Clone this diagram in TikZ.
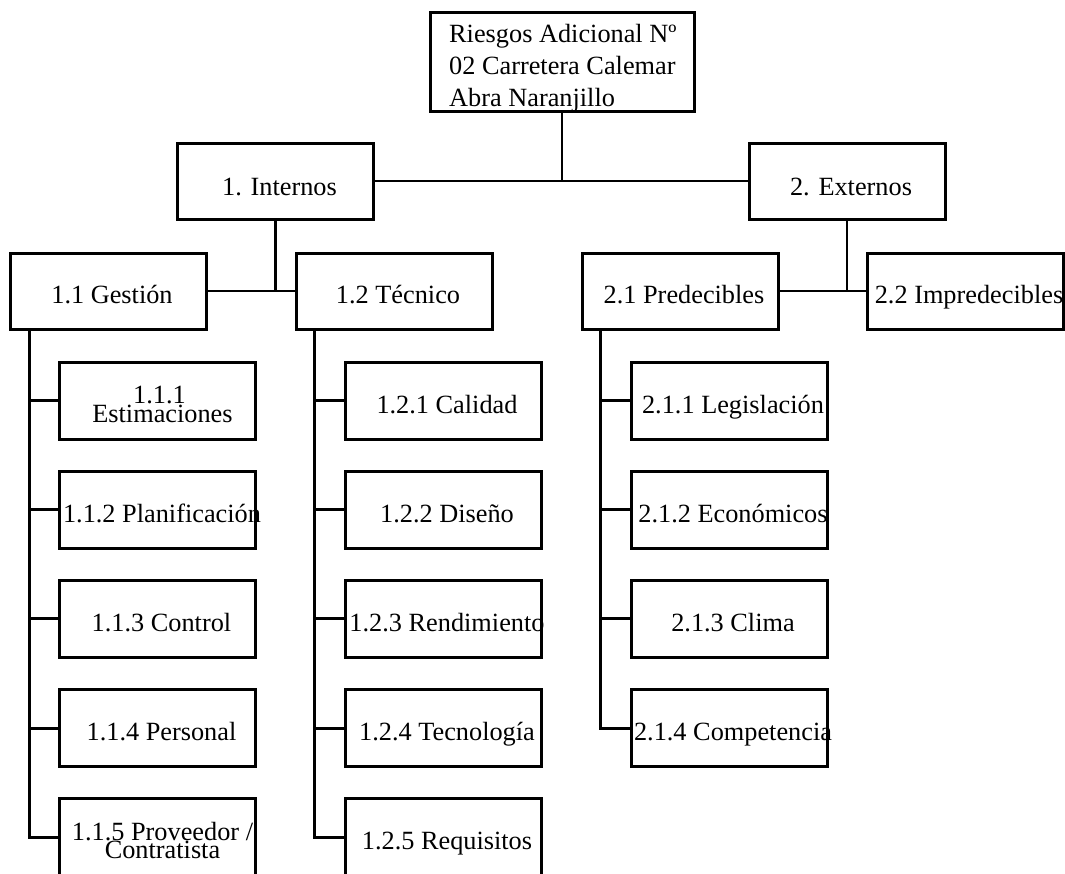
\documentclass[tikz,border=0pt]{standalone}
\usepackage{fontspec}
\setmainfont{Liberation Serif}
\begin{document}
\begin{tikzpicture}[x=1pt,y=-1pt,
  box/.style={draw, line width=3pt, minimum width=196pt, minimum height=76pt, inner sep=0pt},
  leaf/.style={box, minimum height=77pt},
  txt/.style={anchor=base, inner sep=0pt, font=\fontsize{26.3}{31}\selectfont},
  wire/.style={line width=2.9pt}]
\useasboundingbox (0,0) rectangle (1065,873);
\clip (0,0) rectangle (1065,873);

% root box
\node[box, minimum width=264pt, minimum height=99pt] (root) at (562,61.5) {};
\node[txt, anchor=base west] (r1) at (449,42) {Riesgos Adicional Nº};
\node[txt, anchor=base west] (r2) at (449,74) {02 Carretera Calemar};
\node[txt, anchor=base west] (r3) at (449,106) {Abra Naranjillo};

% first level
\node[box] (int) at (275.5,181) {};
\node[txt] (tint) at (279.5,195) {1. Internos};
\node[box] (ext) at (847,181) {};
\node[txt] (text) at (851,195) {2. Externos};

% second level
\node[box] (ges) at (108,291) {};
\node[txt] (tges) at (112,303.5) {1.1 Gestión};
\node[box] (tec) at (394,291) {};
\node[txt] (ttec) at (398,303.5) {1.2 Técnico};
\node[box] (pre) at (680,291) {};
\node[txt] (tpre) at (684,303.5) {2.1 Predecibles};
\node[box] (imp) at (965,291) {};
\node[txt] (timp) at (969,303.5) {2.2 Impredecibles};

% leaves under 1.1
\node[leaf] (a1) at (157.5,400.5) {};
\node[txt] (ta1a) at (159.5,403.5) {1.1.1};
\node[txt] (ta1b) at (162.5,422.5) {Estimaciones};
\node[leaf] (a2) at (157.5,509.7) {};
\node[txt] (ta2) at (162,522.2) {1.1.2 Planificación};
\node[leaf] (a3) at (157.5,618.9) {};
\node[txt] (ta3) at (161.5,631.4) {1.1.3 Control};
\node[leaf] (a4) at (157.5,728.1) {};
\node[txt] (ta4) at (161.5,740.6) {1.1.4 Personal};
\node[leaf] (a5) at (157.5,837.3) {};
\node[txt] (ta5a) at (162.5,840.3) {1.1.5 Proveedor /};
\node[txt] (ta5b) at (162.5,858.3) {Contratista};

% leaves under 1.2
\node[leaf] (b1) at (443,400.5) {};
\node[txt] (tb1) at (447,413) {1.2.1 Calidad};
\node[leaf] (b2) at (443,509.7) {};
\node[txt] (tb2) at (447,522.2) {1.2.2 Diseño};
\node[leaf] (b3) at (443,618.9) {};
\node[txt] (tb3) at (447,631.4) {1.2.3 Rendimiento};
\node[leaf] (b4) at (443,728.1) {};
\node[txt] (tb4) at (447,740.6) {1.2.4 Tecnología};
\node[leaf] (b5) at (443,837.3) {};
\node[txt] (tb5) at (447,849.8) {1.2.5 Requisitos};

% leaves under 2.1
\node[leaf] (c1) at (729,400.5) {};
\node[txt] (tc1) at (733,413) {2.1.1 Legislación};
\node[leaf] (c2) at (729,509.7) {};
\node[txt] (tc2) at (733,522.2) {2.1.2 Económicos};
\node[leaf] (c3) at (729,618.9) {};
\node[txt] (tc3) at (733,631.4) {2.1.3 Clima};
\node[leaf] (c4) at (729,728.1) {};
\node[txt] (tc4) at (733,740.6) {2.1.4 Competencia};

% connectors between levels
\draw[wire] (int.east) -- (ext.west);
\draw[wire] (root.south) -- (root.south |- int.east);
\draw[wire] (ges.east) -- (tec.west);
\draw[wire] (int.south) -- (int.south |- ges.east);
\draw[wire] (pre.east) -- (imp.west);
\draw[wire] (ext.south) -- (ext.south |- pre.east);

% vertical buses with branches to each leaf
\coordinate (ga) at ([xshift=21pt]ges.south west);
\coordinate (ta) at ([xshift=20pt]tec.south west);
\coordinate (pa) at ([xshift=20pt]pre.south west);
\draw[wire] (ga) -- (ga |- a5.west) -- (a5.west);
\foreach \n in {a1,a2,a3,a4} \draw[wire] (ga |- \n.west) -- (\n.west);
\draw[wire] (ta) -- (ta |- b5.west) -- (b5.west);
\foreach \n in {b1,b2,b3,b4} \draw[wire] (ta |- \n.west) -- (\n.west);
\draw[wire] (pa) -- (pa |- c4.west) -- (c4.west);
\foreach \n in {c1,c2,c3} \draw[wire] (pa |- \n.west) -- (\n.west);
\end{tikzpicture}
\end{document}
